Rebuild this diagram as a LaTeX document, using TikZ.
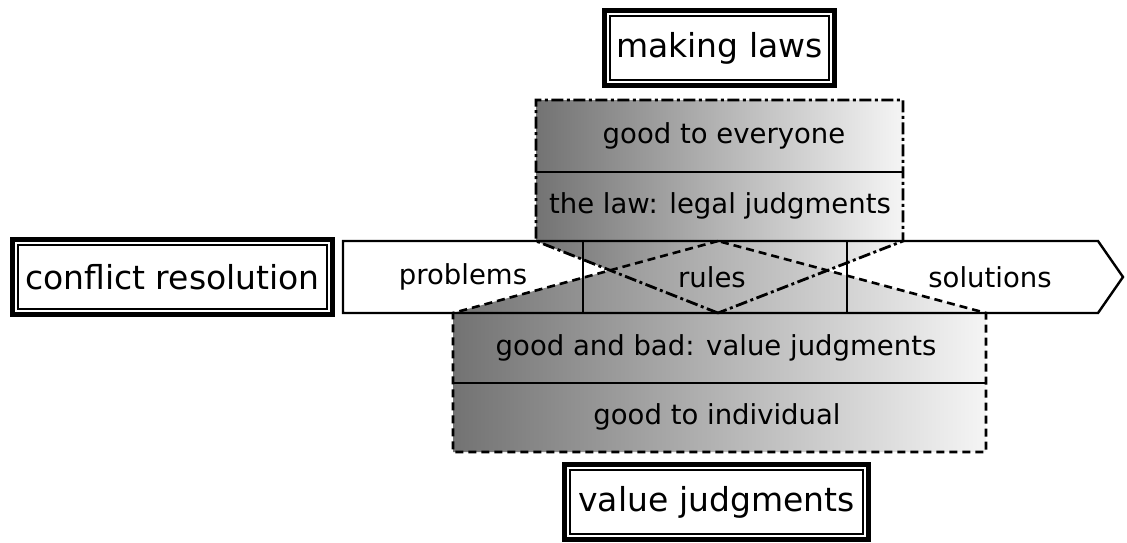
\documentclass[tikz,border=0pt]{standalone}
\usepackage{fontspec}
\setmainfont{DejaVu Sans}

\begin{document}
\begin{tikzpicture}[x=1pt,y=-1pt]
\tikzstyle{every node}+=[inner sep=0pt, font=\fontsize{27.5}{33}\selectfont]
\tikzstyle{headbox}=[draw, fill=white, line width=1.5pt, minimum height=64pt,
  preaction={draw, line width=16.4pt}, preaction={draw=white, line width=5.5pt},
  font=\fontsize{33}{40}\selectfont]
\tikzstyle{dashdot}=[line width=2.8pt, dash pattern=on 12pt off 3.5pt on 3pt off 3.5pt]
\tikzstyle{dashes}=[line width=2.6pt, dash pattern=on 8pt off 5pt]
\tikzstyle{grad}=[left color=black!55, right color=black!4]

\useasboundingbox (0,0) rectangle (1127,542);

\shade [grad] (536,100) -- (903,100) -- (903,241) -- (718,313) -- (536,241) -- cycle;
\shade [grad] (453,313) -- (718,241) -- (986,313) -- (986,452) -- (453,452) -- cycle;

\draw [line width=2.4pt] (343,241) -- (1098,241) -- (1123,277) -- (1098,313) -- (343,313) -- cycle;
\draw [line width=2.4pt] (583,241) -- (583,313);
\draw [line width=2.4pt] (847,241) -- (847,313);
\draw [line width=2.4pt] (536,172) -- (903,172);
\draw [line width=2.4pt] (453,383) -- (986,383);

\draw [dashdot] (718,313) -- (536,241) -- (536,100) -- (903,100) -- (903,241) -- cycle;
\draw [dashes] (718,241) -- (453,313) -- (453,452) -- (986,452) -- (986,313) -- cycle;

\node [headbox, minimum width=219pt] (laws) at (719.5,48) {making laws};
\node [headbox, minimum width=309pt] (conflict) at (172.5,277) {conflict resolution};
\node [headbox, minimum width=293pt] (values) at (716.5,502) {value judgments};

\node (everyone) at (724,136) {good to everyone};
\node (legal) at (720,206) {the law: legal judgments};
\node (problems) at (463,277) {problems};
\node (rules) at (712,277) {rules};
\node (solutions) at (990,277) {solutions};
\node (goodbad) at (716,348) {good and bad: value judgments};
\node (individual) at (717,417) {good to individual};
\end{tikzpicture}
\end{document}
